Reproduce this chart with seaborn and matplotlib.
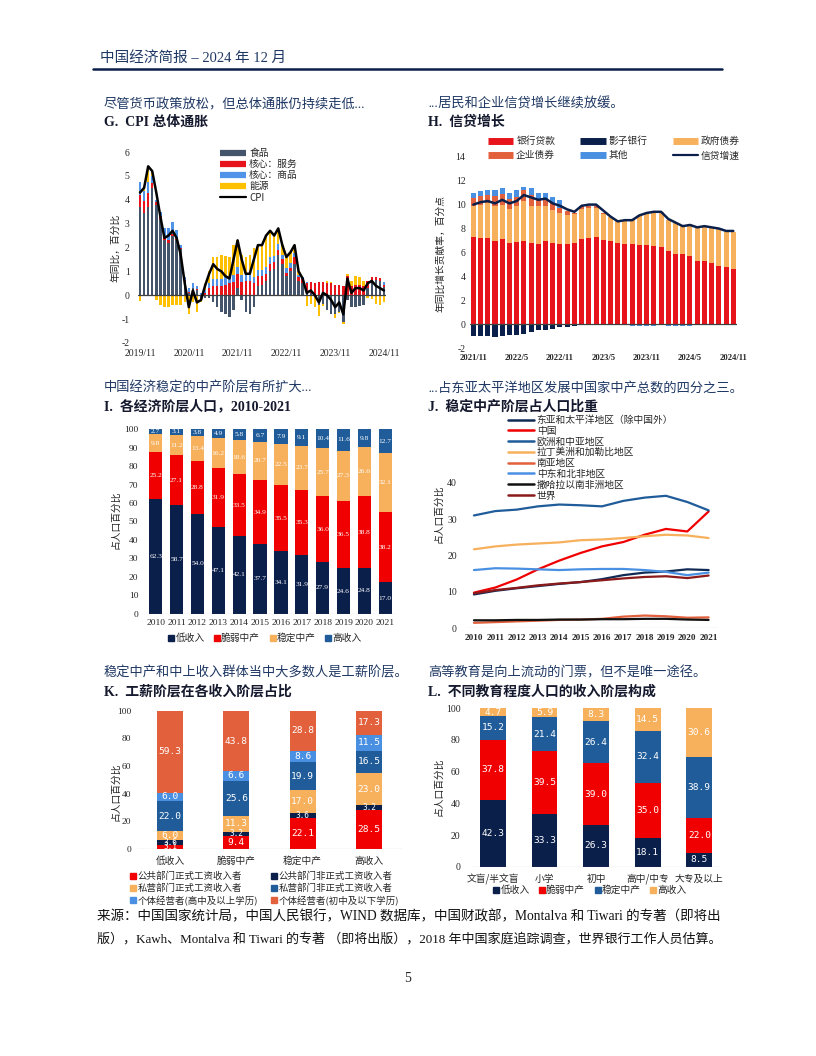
import numpy as np
import pandas as pd
import matplotlib
matplotlib.use('Agg')
import matplotlib.pyplot as plt
import seaborn as sns
from matplotlib.lines import Line2D

# ------------------------------------------------------------------ data
# G. CPI headline inflation, 2019/11 - 2024/11 (contributions, pp)
g_ticklabels = ['2019/11', '2020/11', '2021/11', '2022/11', '2023/11', '2024/11']
g_food = [3.7, 3.45, 3.7, 4.5, 3.8, 3.2, 2.3, 2.2, 2.5, 2.3, 1.95, 0.6, 0.1, 0.3, 0.2, -0.1,
          -0.1, -0.1, -0.3, -0.5, -0.7, -0.8, -0.9, -0.6, 0.3, -0.2, -0.7, -0.8, -0.5, 0.4,
          0.45, 0.6, 1.0, 1.1, 1.7, 1.3, 0.8, 1.0, 1.3, 0.6, 0.5, 0.1, 0.1, -0.05, -0.4,
          -0.35, -0.6, -0.8, -0.8, -0.7, -1.1, -0.2, -0.5, -0.5, -0.45, -0.4, 0.3, 0.6,
          0.65, 0.6, 0.35]
g_services = [0.5, 0.5, 0.6, 0.2, 0.1, 0.1, 0.1, 0.1, 0.05, 0.05, 0.05, 0.05, 0.05, 0.0,
              0.05, 0.0, 0.1, 0.3, 0.4, 0.4, 0.4, 0.45, 0.5, 0.55, 0.6, 0.55, 0.6, 0.6, 0.5,
              0.4, 0.35, 0.3, 0.3, 0.3, 0.2, 0.2, 0.15, 0.15, 0.3, 0.15, 0.2, 0.4, 0.45, 0.5,
              0.55, 0.55, 0.5, 0.5, 0.45, 0.45, 0.4, 0.8, 0.4, 0.45, 0.45, 0.4, 0.3, 0.15,
              0.1, 0.12, 0.1]
g_goods = [0.55, 0.4, 0.45, 0.3, 0.1, 0.2, 0.4, 0.5, 0.5, 0.4, 0.1, 0.1, 0.15, 0.2, 0.15,
           0.1, 0.1, 0.2, 0.3, 0.3, 0.3, 0.3, 0.3, 0.3, 0.3, 0.3, 0.25, 0.25, 0.25, 0.25,
           0.25, 0.3, 0.3, 0.25, 0.25, 0.2, 0.2, 0.2, 0.15, 0.1, 0.05, 0.05, 0.0, 0.0, 0.0,
           0.0, 0.0, 0.0, 0.0, 0.0, 0.0, 0.0, 0.0, 0.0, 0.0, 0.0, 0.0, 0.0, 0.0, 0.0, 0.1]
g_energy = [-0.25, 0.15, 0.6, 0.2, -0.2, -0.4, -0.5, -0.5, -0.4, -0.4, -0.4, -0.3, -0.8,
            -0.3, -0.7, -0.2, 0.3, 0.5, 0.9, 0.9, 1.0, 0.9, 0.8, 1.25, 1.1, 0.85, 0.75, 0.85,
            1.25, 1.05, 1.05, 1.3, 1.1, 0.85, 0.65, 0.4, 0.45, 0.45, 0.35, 0.15, -0.05,
            -0.45, -0.35, -0.45, -0.45, -0.1, 0.1, 0.05, -0.15, -0.05, -0.1, 0.1, 0.2, 0.35,
            0.3, 0.2, -0.1, -0.15, -0.35, -0.42, -0.3]
g_cpi = [4.3, 4.5, 5.4, 5.2, 4.3, 3.3, 2.4, 2.5, 2.7, 2.4, 1.7, 0.5, -0.5, 0.2, -0.3, -0.2,
         0.4, 0.9, 1.3, 1.1, 1.0, 0.8, 0.7, 1.5, 2.3, 1.5, 0.9, 0.9, 1.5, 2.1, 2.1, 2.5, 2.7,
         2.5, 2.8, 2.1, 1.6, 1.8, 2.1, 1.0, 0.7, 0.1, 0.2, 0.0, -0.3, 0.1, 0.0, -0.2, -0.5,
         -0.3, -0.8, 0.7, 0.1, 0.3, 0.3, 0.2, 0.5, 0.6, 0.4, 0.3, 0.2]
g_names = ['食品', '核心：服务', '核心：商品', '能源', 'CPI']

# H. Credit growth, 2021/11 - 2024/11 (contributions, pp)
h_ticklabels = ['2021/11', '2022/5', '2022/11', '2023/5', '2023/11', '2024/5', '2024/11']
h_bank = [7.3, 7.2, 7.2, 7.0, 7.1, 6.8, 6.85, 7.0, 6.8, 6.7, 6.95, 6.8, 6.7, 6.7, 6.8, 7.1,
          7.25, 7.3, 7.05, 6.95, 6.8, 6.75, 6.7, 6.65, 6.65, 6.55, 6.5, 6.1, 5.9, 5.85, 5.7,
          5.25, 5.25, 5.1, 4.85, 4.8, 4.6]
h_gov = [2.6, 2.8, 2.9, 2.85, 2.9, 2.85, 3.05, 3.3, 3.1, 3.15, 2.95, 2.75, 2.6, 2.45, 2.4,
         2.55, 2.5, 2.45, 2.2, 2.0, 1.8, 1.95, 2.0, 2.45, 2.6, 2.8, 2.9, 2.65, 2.6, 2.35, 2.7,
         2.85, 2.9, 2.95, 3.1, 2.95, 3.1]
h_corp = [0.65, 0.7, 0.7, 0.85, 0.9, 0.85, 0.75, 0.9, 0.9, 0.65, 0.45, 0.55, 0.45, 0.3, 0.1,
          0.2, 0.1, 0.1, 0.05, 0.0, 0.0, 0.0, 0.0, 0.0, 0.0, 0.0, 0.0, 0.0, 0.0, 0.0, 0.0,
          0.0, 0.0, 0.0, 0.0, 0.0, 0.0]
h_other = [0.45, 0.45, 0.45, 0.5, 0.45, 0.5, 0.55, 0.3, 0.6, 0.45, 0.6, 0.55, 0.6, 0.0, 0.0,
           0.0, 0.0, 0.0, 0.0, -0.08, -0.08, -0.08, -0.1, -0.1, -0.1, -0.1, -0.08, -0.1,
           -0.1, -0.12, -0.12, -0.08, -0.08, -0.06, -0.05, 0.0, 0.0]
h_shadow = [-0.95, -0.95, -0.95, -1.05, -0.95, -0.9, -0.85, -0.8, -0.65, -0.5, -0.45, -0.35,
            -0.25, -0.2, -0.15, 0.0, 0.0, 0.0, 0.0, 0.0, 0.0, 0.0, 0.0, 0.0, 0.0, 0.0, 0.0,
            0.0, 0.0, 0.0, 0.0, 0.0, 0.0, 0.0, 0.0, 0.0, 0.0]
h_credit = [10.0, 10.2, 10.3, 10.1, 10.4, 10.1, 10.3, 10.8, 10.6, 10.4, 10.5, 10.1, 9.9, 9.6,
            9.4, 9.9, 10.0, 10.0, 9.5, 9.0, 8.6, 8.7, 8.7, 9.1, 9.3, 9.4, 9.4, 8.8, 8.5, 8.2,
            8.3, 8.1, 8.2, 8.1, 8.0, 7.8, 7.8]
h_names = ['银行贷款', '企业债券', '影子银行', '其他', '政府债券', '信贷增速']

# I. Population by economic class, 2010-2021 (%)
i_years = ['2010', '2011', '2012', '2013', '2014', '2015', '2016', '2017', '2018', '2019',
           '2020', '2021']
i_low = [62.3, 58.7, 54.0, 47.1, 42.1, 37.7, 34.1, 31.9, 27.9, 24.6, 24.8, 17.0]
i_vuln = [25.2, 27.1, 28.8, 31.9, 33.5, 34.9, 35.5, 35.3, 36.0, 36.5, 38.8, 38.2]
i_stable = [9.8, 11.2, 13.4, 16.2, 18.6, 20.7, 22.5, 23.7, 25.7, 27.3, 26.6, 32.1]
i_high = [2.7, 3.1, 3.8, 4.9, 5.8, 6.7, 7.9, 9.1, 10.4, 11.6, 9.8, 12.7]
class_names = ['低收入', '脆弱中产', '稳定中产', '高收入']

# J. Share of stable middle class in population (%)
j_years = [2010, 2011, 2012, 2013, 2014, 2015, 2016, 2017, 2018, 2019, 2020, 2021]
j_regions = ['东亚和太平洋地区（除中国外）', '中国', '欧洲和中亚地区', '拉丁美洲和加勒比地区',
             '南亚地区', '中东和北非地区', '撒哈拉以南非洲地区', '世界']
j_eap = [9.3, 10.3, 11.0, 11.6, 12.2, 12.7, 13.5, 14.6, 15.3, 15.6, 16.2, 16.0]
j_china = [9.8, 11.2, 13.4, 16.2, 18.6, 20.7, 22.5, 23.7, 25.7, 27.3, 26.6, 32.1]
j_eca = [31.0, 32.2, 32.6, 33.5, 34.0, 33.8, 33.5, 35.0, 35.9, 36.4, 34.7, 32.4]
j_lac = [21.7, 22.5, 23.0, 23.3, 23.6, 24.2, 24.4, 24.8, 25.3, 25.7, 25.5, 24.8]
j_sas = [1.5, 1.7, 1.9, 2.1, 2.3, 2.4, 2.6, 3.2, 3.5, 3.3, 2.9, 3.0]
j_mena = [16.0, 16.5, 16.4, 16.2, 16.0, 16.2, 16.3, 16.3, 16.0, 15.5, 14.6, 15.3]
j_ssa = [2.2, 2.2, 2.3, 2.3, 2.4, 2.4, 2.5, 2.5, 2.6, 2.6, 2.4, 2.3]
j_world = [9.6, 10.5, 11.1, 11.8, 12.3, 12.7, 13.2, 13.7, 14.1, 14.3, 13.8, 14.5]

# K. Wage workers by income class (%)
k_classes = ['低收入', '脆弱中产', '稳定中产', '高收入']
k_names = ['公共部门正式工资收入者', '公共部门非正式工资收入者', '私营部门正式工资收入者',
           '私营部门非正式工资收入者', '个体经营者(高中及以上学历)', '个体经营者(初中及以下学历)']
k_pub_formal = [3.1, 9.4, 22.1, 28.5]
k_pub_informal = [3.6, 3.2, 3.6, 3.2]
k_priv_formal = [6.0, 11.3, 17.0, 23.0]
k_priv_informal = [22.0, 25.6, 19.9, 16.5]
k_self_high = [6.0, 6.6, 8.6, 11.5]
k_self_low = [59.3, 43.8, 28.8, 17.3]

# L. Income class by education level (%)
l_edu = ['文盲/半文盲', '小学', '初中', '高中/中专', '大专及以上']
l_low = [42.3, 33.3, 26.3, 18.1, 8.5]
l_vuln = [37.8, 39.5, 39.0, 35.0, 22.0]
l_stable = [15.2, 21.4, 26.4, 32.4, 38.9]
l_high = [4.7, 5.9, 8.3, 14.5, 30.6]

# ------------------------------------------------------------------ style
sns.set_theme(style='white')
plt.rcParams['font.family'] = ['Liberation Serif', 'Noto Sans CJK SC', 'DejaVu Sans']
plt.rcParams['axes.unicode_minus'] = False
CJK = ['Noto Sans CJK SC', 'DejaVu Sans']
SER = ['Liberation Serif', 'Noto Sans CJK SC']
NAVY_T = '#1F3864'
C_NAVY = '#0B1F4B'
C_RED = '#F00000'
C_ORANGE = '#F7B05B'
C_BLUE = '#1F5C99'
C_LBLUE = '#4A90E2'
C_ORED = '#E2603C'
C_GREY = '#44546A'
C_YEL = '#FFC000'

W, H = 816, 1056
fig = plt.figure(figsize=(W / 100, H / 100), dpi=100)


def add_ax(l, t, r, b):
    return fig.add_axes([l / W, 1 - b / H, (r - l) / W, (b - t) / H])


def fx(x):
    return x / W


def fy(y):
    return 1 - y / H


def stacked(ax, x, layers, colors, width, label_kw=None, small=None):
    x = np.asarray(x, float)
    pos = np.zeros(len(x))
    neg = np.zeros(len(x))
    for vals, col in zip(layers, colors):
        v = np.asarray(vals, float)
        base = np.where(v >= 0, pos, neg)
        ax.bar(x, v, width=width, bottom=base, color=col, linewidth=0)
        if label_kw is not None:
            for xi, b, vi in zip(x, base, v):
                kw = dict(label_kw)
                if small is not None and abs(vi) < small[0]:
                    kw['fontsize'] = small[1]
                ax.text(xi, b + vi / 2, f'{vi:.1f}', ha='center', va='center', **kw)
        pos = pos + np.where(v >= 0, v, 0)
        neg = neg + np.where(v < 0, v, 0)


def clean(ax):
    for s in ax.spines.values():
        s.set_visible(False)
    ax.tick_params(length=0)
    ax.set_facecolor('none')


def titles(x, y1, y2, sub, title):
    fig.text(fx(x), fy(y1), sub, fontsize=9.5, style='italic', color=NAVY_T,
             family=SER, va='center', ha='left')
    fig.text(fx(x), fy(y2), title, fontsize=10, weight='bold', color='#15192e',
             family=SER, va='center', ha='left')


def ylab(x, y, s):
    fig.text(fx(x), fy(y), s, rotation=90, fontsize=7, family=CJK, va='center',
             ha='center', color='#222222')


# ------------------------------------------------------------------ header / footer
fig.text(fx(100), fy(58), '中国经济简报 – 2024 年 12 月', fontsize=10.5, color=NAVY_T,
         family=SER, va='center', ha='left')
fig.add_artist(Line2D([fx(93), fx(722)], [fy(69), fy(69)], lw=1.8, color='#0B1F4B'))
fig.text(fx(97), fy(917), '来源：中国国家统计局，中国人民银行，WIND 数据库，中国财政部，Montalva 和 Tiwari 的专著（即将出',
         fontsize=9.75, family=SER, va='center', ha='left', color='#111111')
fig.text(fx(97), fy(939), '版），Kawh、Montalva 和 Tiwari 的专著 （即将出版），2018 年中国家庭追踪调查，世界银行工作人员估算。',
         fontsize=9.4, family=SER, va='center', ha='left', color='#111111')
fig.text(fx(408), fy(978), '5', fontsize=10, family=SER, va='center', ha='center')

# ------------------------------------------------------------------ G
titles(104, 104, 122, '尽管货币政策放松，但总体通胀仍持续走低...', 'G.  CPI 总体通胀')
axg = add_ax(138, 152, 386, 343)
xg = np.arange(len(g_cpi))
stacked(axg, xg, [g_food, g_services, g_goods, g_energy], [C_GREY, '#E8141B', '#4F94E8', C_YEL], 0.6)
axg.axhline(0, color='#404040', lw=0.9, zorder=1)
sns.lineplot(x=xg, y=g_cpi, ax=axg, color='black', linewidth=1.8, zorder=5)
axg.set_xlim(-0.5, len(g_cpi) - 0.5)
axg.set_ylim(-2, 6)
axg.set_yticks(range(-2, 7))
axg.set_xticks(range(0, len(g_cpi), 12))
axg.set_xticklabels(g_ticklabels)
clean(axg)
axg.tick_params(axis='y', labelsize=7, pad=6)
axg.tick_params(axis='x', labelsize=7, pad=4)
ylab(115, 248, '年同比，百分比')
hg = [Line2D([], [], color=c, lw=4.5, solid_capstyle='butt') for c in [C_GREY, '#E8141B', '#4F94E8', C_YEL]]
hg.append(Line2D([], [], color='black', lw=1.6))
axg.legend(hg, g_names, loc='upper left', bbox_to_anchor=(fx(220), fy(148)),
           bbox_transform=fig.transFigure, frameon=False, handlelength=2.7,
           handletextpad=0.3, labelspacing=0.12, borderpad=0, borderaxespad=0,
           prop={'family': CJK, 'size': 7})

# ------------------------------------------------------------------ H
titles(428, 104, 122, '...居民和企业信贷增长继续放缓。', 'H.  信贷增长')
axh = add_ax(469.7, 156.7, 736.9, 348.3)
xh = np.arange(len(h_bank))
stacked(axh, xh, [h_bank, h_gov, h_corp, h_other, h_shadow],
        ['#E8141B', C_ORANGE, C_ORED, C_LBLUE, C_NAVY], 0.7)
axh.axhline(0, color='#404040', lw=0.9, zorder=1)
sns.lineplot(x=xh, y=h_credit, ax=axh, color='#0B1F4B', linewidth=1.8, zorder=5)
axh.set_xlim(-0.5, len(h_bank) - 0.5)
axh.set_ylim(-2, 14)
axh.set_yticks(range(-2, 15, 2))
axh.set_xticks(range(0, len(h_bank), 6))
axh.set_xticklabels(h_ticklabels, fontweight='bold')
clean(axh)
axh.tick_params(axis='y', labelsize=7, pad=3)
axh.tick_params(axis='x', labelsize=6.2, pad=4)
ylab(440, 253, '年同比增长贡献率，百分点')
hh = [Line2D([], [], color=c, lw=5, solid_capstyle='butt') for c in ['#E8141B', C_ORED, C_NAVY, C_LBLUE, C_ORANGE]]
hh.append(Line2D([], [], color='#0B1F4B', lw=1.6))
axh.legend(hh, h_names, loc='upper left', bbox_to_anchor=(fx(488), fy(136)),
           bbox_transform=fig.transFigure, frameon=False, ncol=3, handlelength=2.6,
           handletextpad=0.3, labelspacing=0.45, columnspacing=2.6, borderpad=0,
           borderaxespad=0, prop={'family': CJK, 'size': 7})

# ------------------------------------------------------------------ I
titles(104, 388, 406.7, '中国经济稳定的中产阶层有所扩大...', 'I.  各经济阶层人口，2010-2021')
axi = add_ax(145.3, 429.3, 395.7, 613.7)
xi = np.arange(len(i_years))
stacked(axi, xi, [i_low, i_vuln, i_stable, i_high], [C_NAVY, C_RED, C_ORANGE, C_BLUE], 0.64,
        label_kw=dict(color='white', fontsize=5.3, family=SER))
axi.axhline(0, color='#808080', lw=0.8)
axi.set_xlim(-0.5, len(i_years) - 0.5)
axi.set_ylim(0, 100)
axi.set_yticks(range(0, 101, 10))
axi.set_xticks(xi)
axi.set_xticklabels(i_years)
clean(axi)
axi.tick_params(axis='y', labelsize=6.8, pad=5)
axi.tick_params(axis='x', labelsize=6.8, pad=4)
ylab(115, 520, '占人口百分比')
hi = [Line2D([], [], marker='s', linestyle='none', markersize=4.5, color=c) for c in [C_NAVY, C_RED, C_ORANGE, C_BLUE]]
fig.legend(hi, class_names, loc='center', bbox_to_anchor=(fx(265), fy(638)), ncol=4,
           frameon=False, handlelength=0.6, handletextpad=0.1, columnspacing=1.0,
           borderpad=0, prop={'family': CJK, 'size': 7})

# ------------------------------------------------------------------ J
titles(428, 388, 406.7, '...占东亚太平洋地区发展中国家中产总数的四分之三。', 'J.  稳定中产阶层占人口比重')
axj = add_ax(468, 482.7, 718, 628.3)
j_series = [j_eap, j_china, j_eca, j_lac, j_sas, j_mena, j_ssa, j_world]
j_colors = ['#102A56', C_RED, C_BLUE, C_ORANGE, C_ORED, C_LBLUE, '#111111', '#8B1A1A']
dfj = pd.DataFrame({'year': np.tile(j_years, len(j_regions)),
                    'region': np.repeat(j_regions, len(j_years)),
                    'share': np.concatenate(j_series)})
sns.lineplot(data=dfj, x='year', y='share', hue='region', hue_order=j_regions,
             palette=j_colors, linewidth=1.6, ax=axj, legend=False)
axj.axhline(0, color='#808080', lw=0.8)
axj.set_xlim(2009.72, 2021.44)
axj.set_ylim(0, 40)
axj.set_yticks(range(0, 41, 10))
axj.set_xticks(j_years)
axj.set_xticklabels([str(y) for y in j_years], fontweight='bold')
axj.set_xlabel('')
axj.set_ylabel('')
clean(axj)
axj.tick_params(axis='y', labelsize=7, pad=8)
axj.tick_params(axis='x', labelsize=6.6, pad=4)
ylab(438, 514, '占人口百分比')
hj = [Line2D([], [], color=c, lw=1.8) for c in j_colors]
axj.legend(hj, j_regions, loc='upper left', bbox_to_anchor=(fx(508), fy(415)),
           bbox_transform=fig.transFigure, frameon=False, handlelength=2.7,
           handletextpad=0.25, labelspacing=0.08, borderpad=0, borderaxespad=0,
           prop={'family': CJK, 'size': 7})

# ------------------------------------------------------------------ K
titles(104, 673, 691.7, '稳定中产和中上收入群体当中大多数人是工薪阶层。', 'K.  工薪阶层在各收入阶层占比')
axk = add_ax(137, 710.7, 402, 849)
xk = np.arange(len(k_classes))
k_colors = [C_RED, C_NAVY, C_ORANGE, C_BLUE, C_LBLUE, C_ORED]
stacked(axk, xk, [k_pub_formal, k_pub_informal, k_priv_formal, k_priv_informal, k_self_high, k_self_low],
        k_colors, 0.39, label_kw=dict(color='white', fontsize=6.8, family=['DejaVu Sans Mono']),
        small=(5, 5.6))
axk.axhline(0, color='#808080', lw=0.8)
axk.set_xlim(-0.5, 3.5)
axk.set_ylim(0, 100)
axk.set_yticks(range(0, 101, 20))
axk.set_xticks(xk)
axk.set_xticklabels(k_classes, family=CJK)
clean(axk)
axk.tick_params(axis='y', labelsize=6.8, pad=4)
axk.tick_params(axis='x', labelsize=7, pad=5)
ylab(115, 792, '占人口百分比')
order = [0, 2, 4, 1, 3, 5]
hk = [Line2D([], [], marker='s', linestyle='none', markersize=4.5, color=k_colors[i]) for i in order]
fig.legend(hk, [k_names[i] for i in order], loc='upper left', bbox_to_anchor=(fx(125), fy(867)),
           ncol=2, frameon=False, handlelength=0.6, handletextpad=0.2, columnspacing=1.4,
           labelspacing=0.25, borderpad=0, prop={'family': CJK, 'size': 6.8})

# ------------------------------------------------------------------ L
titles(428, 673, 691.7, '高等教育是向上流动的门票，但不是唯一途径。', 'L.  不同教育程度人口的收入阶层构成')
axl = add_ax(471.7, 708.3, 720, 866.7)
xl = np.arange(len(l_edu))
stacked(axl, xl, [l_low, l_vuln, l_stable, l_high], [C_NAVY, C_RED, C_BLUE, C_ORANGE], 0.5,
        label_kw=dict(color='white', fontsize=6.8, family=['DejaVu Sans Mono']))
axl.axhline(0, color='#808080', lw=0.8)
axl.set_xlim(-0.41, 4.4)
axl.set_ylim(0, 100)
axl.set_yticks(range(0, 101, 20))
axl.set_xticks(xl)
axl.set_xticklabels(l_edu, family=CJK)
clean(axl)
axl.tick_params(axis='y', labelsize=7, pad=8)
axl.tick_params(axis='x', labelsize=7, pad=5)
ylab(438, 787, '占人口百分比')
hl = [Line2D([], [], marker='s', linestyle='none', markersize=4.5, color=c) for c in [C_NAVY, C_RED, C_BLUE, C_ORANGE]]
fig.legend(hl, class_names, loc='center', bbox_to_anchor=(fx(590), fy(890)), ncol=4,
           frameon=False, handlelength=0.6, handletextpad=0.1, columnspacing=1.0,
           borderpad=0, prop={'family': CJK, 'size': 7})

fig.savefig('out.png', dpi=100, facecolor='white')
